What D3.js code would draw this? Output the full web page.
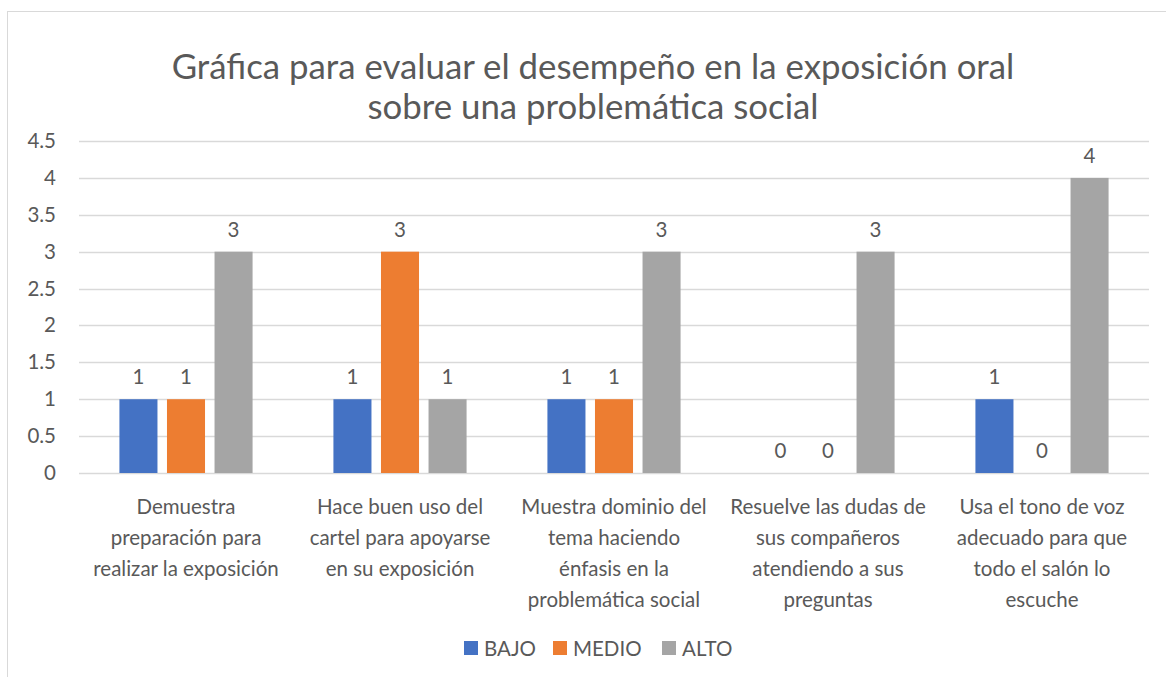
<!DOCTYPE html>
<html lang="es">
<head>
<meta charset="UTF-8">
<script src="https://d3js.org/d3.v7.min.js"></script>
<style>
  body { margin: 0; background: #fff; }
  text { font-family: Lato, "Open Sans", sans-serif; fill: #595959; }
</style>
</head>
<body>
<script>
    // data
    var categories = [
        ["Demuestra", "preparación para", "realizar la exposición"],
        ["Hace buen uso del", "cartel para apoyarse", "en su exposición"],
        ["Muestra dominio del", "tema haciendo", "énfasis en la", "problemática social"],
        ["Resuelve las dudas de", "sus compañeros", "atendiendo a sus", "preguntas"],
        ["Usa el tono de voz", "adecuado para que", "todo el salón lo", "escuche"]
    ];
    var seriesNames = ["BAJO", "MEDIO", "ALTO"];
    var bajo = [1, 1, 1, 0, 1];
    var medio = [1, 3, 1, 0, 0];
    var alto = [3, 1, 3, 3, 4];
    var yTicks = [0, 0.5, 1, 1.5, 2, 2.5, 3, 3.5, 4, 4.5];
    var colors = ["#4472c4", "#ed7d31", "#a5a5a5"];
    var titleLines = ["Gráfica para evaluar el desempeño en la exposición oral", "sobre una problemática social"];

    var width = 1166, height = 677;
    var plotLeft = 79, plotRight = 1149, plotTop = 141, plotBottom = 473;

    var svg = d3.select("body").append("svg")
        .attr("width", width)
        .attr("height", height);

    // chart border
    svg.append("rect")
        .attr("x", 7.5).attr("y", 11.5)
        .attr("width", 1200).attr("height", 700)
        .attr("fill", "none")
        .attr("stroke", "#d9d9d9");

    // title
    svg.append("g").selectAll("text")
        .data(titleLines)
        .enter().append("text")
        .attr("x", 593)
        .attr("y", function (d, i) { return 79 + i * 40; })
        .attr("text-anchor", "middle")
        .attr("font-size", "34.8px")
        .text(function (d) { return d; });

    var x = d3.scaleBand()
        .domain(d3.range(categories.length))
        .range([plotLeft, plotRight]);

    var xInner = d3.scaleBand()
        .domain(seriesNames)
        .range([0, x.bandwidth()])
        .paddingInner(0.2)
        .paddingOuter(0.85);

    var y = d3.scaleLinear()
        .domain([0, 4.5])
        .range([plotBottom, plotTop]);

    // grid
    svg.append("g").selectAll("line")
        .data(yTicks)
        .enter().append("line")
        .attr("x1", plotLeft).attr("x2", plotRight)
        .attr("y1", function (d) { return Math.round(y(d)) + 0.5; })
        .attr("y2", function (d) { return Math.round(y(d)) + 0.5; })
        .attr("stroke", "#d9d9d9")
        .attr("stroke-width", 1.5);

    // y axis labels
    svg.append("g").selectAll("text")
        .data(yTicks)
        .enter().append("text")
        .attr("x", 56)
        .attr("y", function (d) { return y(d) + 7; })
        .attr("text-anchor", "end")
        .attr("font-size", "20.5px")
        .text(function (d) { return d; });

    var series = [bajo, medio, alto];

    var groups = svg.append("g").selectAll("g")
        .data(series)
        .enter().append("g")
        .attr("fill", function (d, i) { return colors[i]; });

    function rows(d, i) {
        return d.map(function (v, j) { return { v: v, j: j, s: seriesNames[i] }; });
    }

    groups.selectAll("rect")
        .data(rows)
        .enter().append("rect")
        .attr("x", function (d) { return x(d.j) + xInner(d.s); })
        .attr("width", xInner.bandwidth())
        .attr("y", function (d) { return y(d.v); })
        .attr("height", function (d) { return y(0) - y(d.v); });

    groups.selectAll("text")
        .data(rows)
        .enter().append("text")
        .attr("x", function (d) { return x(d.j) + xInner(d.s) + xInner.bandwidth() / 2; })
        .attr("y", function (d) { return y(d.v) - 15; })
        .attr("text-anchor", "middle")
        .attr("font-size", "20.5px")
        .text(function (d) { return d.v; });

    // category labels
    var catG = svg.append("g").selectAll("text")
        .data(categories)
        .enter().append("text")
        .attr("x", function (d, i) { return x(i) + x.bandwidth() / 2; })
        .attr("y", 514)
        .attr("text-anchor", "middle")
        .attr("font-size", "20.5px");

    catG.selectAll("tspan")
        .data(function (d) { return d; })
        .enter().append("tspan")
        .attr("x", function () { return d3.select(this.parentNode).attr("x"); })
        .attr("dy", function (d, i) { return i === 0 ? 0 : 31; })
        .text(function (d) { return d; });

    // legend
    var legendX = [464, 553, 662];
    var legend = svg.append("g").selectAll("g")
        .data(seriesNames)
        .enter().append("g")
        .attr("transform", function (d, i) { return "translate(" + legendX[i] + ",641)"; });

    legend.append("rect")
        .attr("width", 14).attr("height", 14)
        .attr("fill", function (d, i) { return colors[i]; });

    legend.append("text")
        .attr("x", 20).attr("y", 15)
        .attr("font-size", "20.5px")
        .text(function (d) { return d; });
</script>
</body>
</html>
